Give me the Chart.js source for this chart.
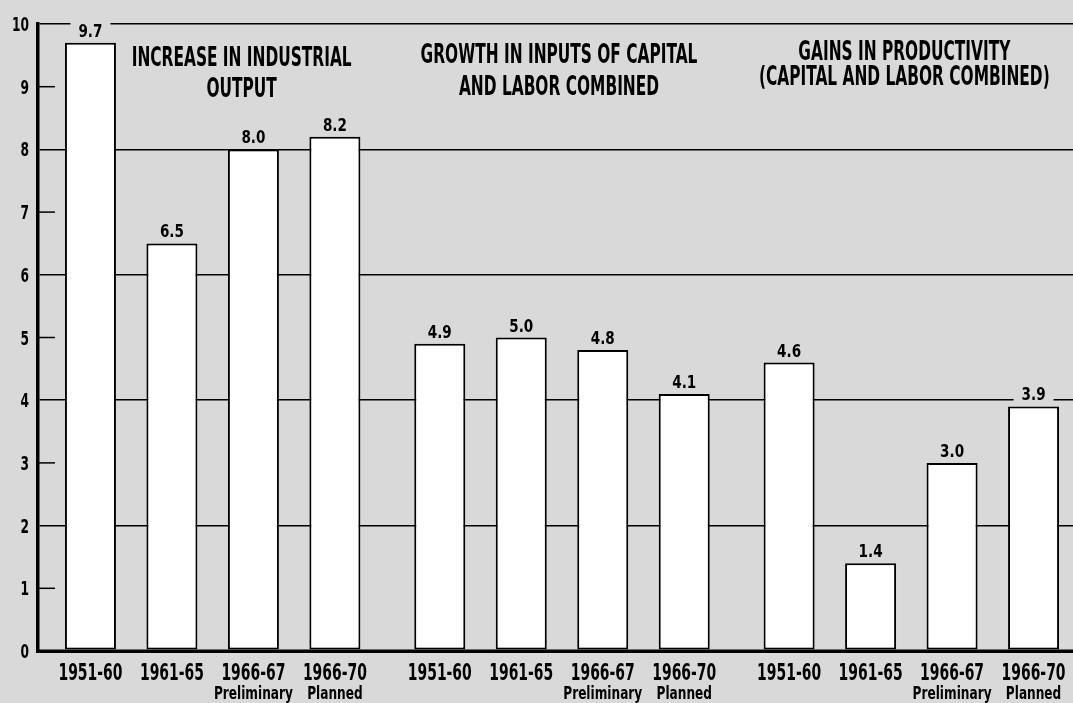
<!DOCTYPE html>
<html><head><meta charset="utf-8">
<script src="https://cdn.jsdelivr.net/npm/chart.js@4.4.0/dist/chart.umd.min.js"></script>
<style>
html,body{margin:0;padding:0;background:#d9d9d9;overflow:hidden;width:1073px;height:703px}
canvas{display:block}
</style></head><body>
<canvas id="c" width="1090" height="703"></canvas>
<script>
// ---- data ----
const groupKeys = ['output', 'inputs', 'productivity'];
const groupTitles = [
  ['INCREASE IN INDUSTRIAL', 'OUTPUT'],
  ['GROWTH IN INPUTS OF CAPITAL', 'AND LABOR COMBINED'],
  ['GAINS IN PRODUCTIVITY', '(CAPITAL AND LABOR COMBINED)']
];
const periods = ['1951-60', '1961-65', '1966-67', '1966-70'];
const periodNotes = ['', '', 'Preliminary', 'Planned'];
const industrialOutput = [9.7, 6.5, 8.0, 8.2];
const inputsGrowth = [4.9, 5.0, 4.8, 4.1];
const productivityGains = [4.6, 1.4, 3.0, 3.9];
const yMin = 0, yMax = 10, yStep = 1;

// ---- style ----
const BG = '#d9d9d9';
const COND = "'DejaVu Sans Condensed','DejaVu Sans',sans-serif";
const titleDx = [29, -3, -7];
const titleBaselines = [[66, 97], [63, 95], [60, 85]];
const FONT_TITLE = "bold 26px " + COND;
const FONT_VALUE = "bold 18px " + COND;
const FONT_PERIOD = "bold 23px " + COND;
const FONT_NOTE = "bold 17px " + COND;
const FONT_YTICK = "bold 20px " + COND;

function squeeze(ctx, font, ref, target) {
  ctx.save(); ctx.font = font; const w = ctx.measureText(ref).width; ctx.restore();
  return target / w;
}
function txt(ctx, t, x, y, font, sx, align) {
  ctx.save(); ctx.font = font; ctx.textAlign = align || 'center'; ctx.textBaseline = 'alphabetic';
  ctx.fillStyle = '#000'; ctx.translate(x, y); ctx.scale(sx, 1); ctx.fillText(t, 0, 0); ctx.restore();
}

const series = [industrialOutput, inputsGrowth, productivityGains];
const datasets = periods.map((p, i) => ({
  label: p,
  data: series.map(s => s[i]),
  backgroundColor: '#ffffff',
  borderColor: '#000000',
  borderWidth: 2,
  borderSkipped: false,
  categoryPercentage: 0.933,
  barPercentage: 0.626
}));

const annot = {
  id: 'annot',
  afterDatasetsDraw(chart) {
    const ctx = chart.ctx, area = chart.chartArea;
    const ys = chart.scales.y, xs = chart.scales.x;
    const sxT = squeeze(ctx, FONT_TITLE, 'INCREASE IN INDUSTRIAL', 220);
    const sxV = squeeze(ctx, FONT_VALUE, '9.7', 24);
    const sxP = squeeze(ctx, FONT_PERIOD, '1951-60', 64);
    const sxN = squeeze(ctx, FONT_NOTE, 'Preliminary', 79);
    const sxY = squeeze(ctx, FONT_YTICK, '10', 17);
    // y tick labels (from the library's scale) and odd tick marks inside the plot
    ctx.save();
    ctx.strokeStyle = '#000'; ctx.lineWidth = 1.5;
    ys.ticks.forEach(t => {
      const y = ys.getPixelForValue(t.value);
      txt(ctx, String(t.label), area.left - 9, y + 7, FONT_YTICK, sxY, 'right');
      if (t.value % 2 === 1) {
        ctx.beginPath(); ctx.moveTo(area.left, y); ctx.lineTo(area.left + 17, y); ctx.stroke();
      }
    });
    // baseline
    const y0 = ys.getPixelForValue(0);
    ctx.lineWidth = 3;
    ctx.beginPath(); ctx.moveTo(area.left - 1.5, y0); ctx.lineTo(chart.width, y0); ctx.stroke();
    ctx.restore();
    // value labels + period labels
    chart.data.datasets.forEach((ds, i) => {
      const meta = chart.getDatasetMeta(i);
      meta.data.forEach((el, j) => {
        const v = ds.data[j];
        const t = v.toFixed(1);
        const base = el.y - 6;
        ctx.save(); ctx.font = FONT_VALUE;
        const w = ctx.measureText(t).width * sxV;
        ctx.fillStyle = BG;
        ctx.fillRect(el.x - w / 2 - 8, base - 16, w + 16, 19);
        ctx.restore();
        txt(ctx, t, el.x, base, FONT_VALUE, sxV);
        txt(ctx, periods[i], el.x, 680, FONT_PERIOD, sxP);
        if (periodNotes[i]) txt(ctx, periodNotes[i], el.x, 699, FONT_NOTE, sxN);
      });
    });
    // group titles
    groupKeys.forEach((g, k) => {
      const cx = xs.getPixelForValue(k) + titleDx[k];
      groupTitles[k].forEach((line, li) => txt(ctx, line, cx, titleBaselines[k][li], FONT_TITLE, sxT));
    });
  }
};

new Chart(document.getElementById('c'), {
  type: 'bar',
  data: { labels: groupKeys, datasets },
  options: {
    responsive: false,
    animation: false,
    layout: { padding: { top: 24, bottom: 52, left: 0, right: 4 } },
    plugins: { legend: { display: false }, tooltip: { enabled: false } },
    scales: {
      x: { display: false },
      y: {
        min: yMin, max: yMax,
        ticks: { stepSize: yStep, display: false },
        grid: {
          color: c => (c.tick.value % 2 === 0 ? '#000' : 'rgba(0,0,0,0)'),
          lineWidth: c => (c.tick.value === 0 ? 3 : 1.5),
          drawTicks: false
        },
        border: { display: true, color: '#000', width: 3.5 },
        afterFit(s) { s.width = 38; }
      }
    }
  },
  plugins: [annot]
});
</script>
</body></html>
